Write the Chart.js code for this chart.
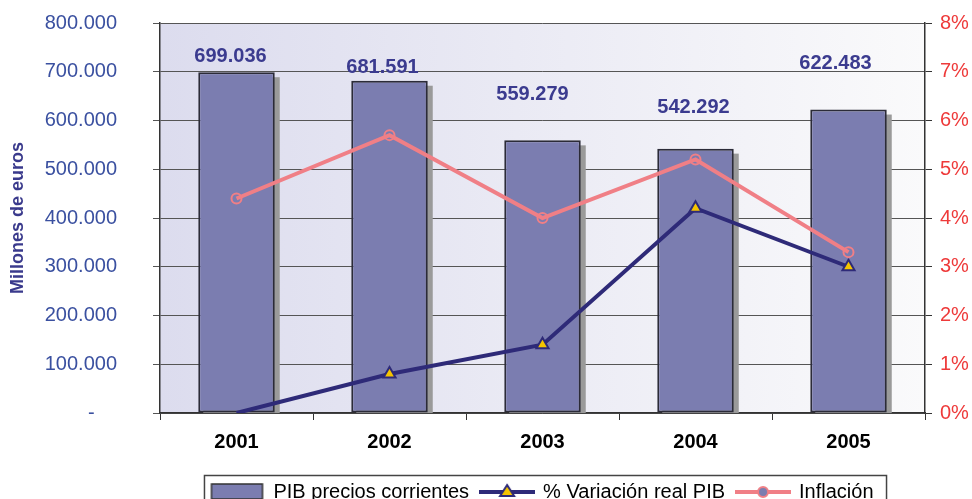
<!DOCTYPE html>
<html>
<head>
<meta charset="utf-8">
<script src="https://cdn.jsdelivr.net/npm/chart.js@4.4.1/dist/chart.umd.min.js"></script>
<style>
  html, body { margin: 0; padding: 0; background: #fff; }
  #wrap { width: 972px; height: 499px; }
</style>
</head>
<body>
<div id="wrap"><canvas id="pib"></canvas></div>
<script>
// data
var years = ['2001', '2002', '2003', '2004', '2005'];
var pibCorrientes = [699036, 681591, 559279, 542292, 622483];
var variacionReal = [0, 0.8, 1.4, 4.2, 3.0];
var inflacion = [4.4, 5.7, 4.0, 5.2, 3.3];

// hand-placed value labels (pixel nudges, like the original)
var labelLift = [16, 13, 46, 41, 46];
var labelShift = [-6, -7, -10, -2, -13];

var FONT = "'Liberation Sans', Arial, sans-serif";

function miles(v) {
    return Math.round(v).toString().replace(/\B(?=(\d{3})+(?!\d))/g, '.');
}

// legend icons
function icon(kind) {
    var c = document.createElement('canvas');
    c.width = 56; c.height = 18;
    var g = c.getContext('2d');
    if (kind === 'bar') {
        g.fillStyle = '#7B7DB0';
        g.fillRect(2, 1, 51, 15);
        g.strokeStyle = '#333';
        g.lineWidth = 1.5;
        g.strokeRect(2, 1, 51, 15);
    } else if (kind === 'tri') {
        g.strokeStyle = '#2E2A78';
        g.lineWidth = 4;
        g.beginPath(); g.moveTo(0, 9); g.lineTo(56, 9); g.stroke();
        g.beginPath(); g.moveTo(28, 2); g.lineTo(35, 13); g.lineTo(21, 13); g.closePath();
        g.fillStyle = '#F5C400'; g.fill();
        g.lineWidth = 2; g.stroke();
    } else {
        g.strokeStyle = '#F07F86';
        g.lineWidth = 4;
        g.beginPath(); g.moveTo(0, 9); g.lineTo(56, 9); g.stroke();
        g.beginPath(); g.arc(28, 9, 5, 0, Math.PI * 2);
        g.fillStyle = '#7B7DB0'; g.fill();
        g.lineWidth = 2; g.stroke();
    }
    return c;
}
var icons = [icon('bar'), icon('tri'), icon('circ')];

var decorPlugin = {
    id: 'decor',
    beforeDraw: function (chart) {
        var a = chart.chartArea, ctx = chart.ctx;
        var grad = ctx.createLinearGradient(a.left, 0, a.right, 0);
        grad.addColorStop(0, '#DCDCEE');
        grad.addColorStop(1, '#FAFAFB');
        ctx.save();
        ctx.fillStyle = grad;
        ctx.fillRect(a.left, a.top, a.right - a.left, a.bottom - a.top);
        ctx.restore();
    },
    beforeDatasetsDraw: function (chart) {
        // bar shadows
        var a = chart.chartArea, ctx = chart.ctx;
        var meta = chart.getDatasetMeta(0);
        ctx.save();
        ctx.beginPath();
        ctx.rect(a.left, a.top, a.right - a.left, a.bottom - a.top);
        ctx.clip();
        ctx.fillStyle = '#9A9A9A';
        meta.data.forEach(function (bar) {
            var p = bar.getProps(['x', 'y', 'base', 'width'], true);
            ctx.fillRect(p.x - p.width / 2 + 5, p.y + 5, p.width, p.base - p.y);
        });
        ctx.restore();
    },
    afterDatasetsDraw: function (chart) {
        var ctx = chart.ctx;
        var meta = chart.getDatasetMeta(0);
        ctx.save();
        ctx.font = 'bold 20px ' + FONT;
        ctx.fillStyle = '#3B3B8F';
        ctx.textAlign = 'center';
        ctx.textBaseline = 'middle';
        meta.data.forEach(function (bar, i) {
            ctx.fillText(miles(pibCorrientes[i]), bar.x + labelShift[i], bar.y - labelLift[i]);
        });
        ctx.restore();
    },
    afterDraw: function (chart) {
        // legend frame
        var lg = chart.legend, ctx = chart.ctx;
        if (!lg || !lg.legendHitBoxes.length) return;
        var first = lg.legendHitBoxes[0];
        var last = lg.legendHitBoxes[lg.legendHitBoxes.length - 1];
        ctx.save();
        ctx.strokeStyle = '#444';
        ctx.lineWidth = 1.5;
        ctx.strokeRect(first.left - 7, 475.5, last.left + last.width - first.left + 20, 40);
        ctx.restore();
    }
};

function noVerticalPad(s) {
    s.paddingTop = 0;
    s.paddingBottom = 0;
}

new Chart(document.getElementById('pib'), {
    type: 'bar',
    data: {
        labels: years,
        datasets: [{
            label: 'PIB precios corrientes',
            data: pibCorrientes,
            yAxisID: 'y',
            backgroundColor: '#7B7DB0',
            borderColor: '#2B2B38',
            borderWidth: 2,
            borderSkipped: false,
            barPercentage: 0.5,
            categoryPercentage: 1,
            order: 2
        }, {
            type: 'line',
            label: '% Variación real PIB',
            data: variacionReal,
            yAxisID: 'y1',
            borderColor: '#2E2A78',
            borderWidth: 4,
            pointStyle: 'triangle',
            pointRadius: function (c) { return c.dataIndex === 0 ? 0 : 7; },
            pointBackgroundColor: '#F5C400',
            pointBorderColor: '#2E2A78',
            pointBorderWidth: 2,
            tension: 0,
            order: 1
        }, {
            type: 'line',
            label: 'Inflación',
            data: inflacion,
            yAxisID: 'y1',
            borderColor: '#F07F86',
            borderWidth: 4,
            pointStyle: 'circle',
            pointRadius: 5,
            pointBackgroundColor: 'rgba(0,0,0,0)',
            pointBorderColor: '#F07F86',
            pointBorderWidth: 2,
            tension: 0,
            order: 0
        }]
    },
    options: {
        responsive: true,
        maintainAspectRatio: false,
        animation: false,
        layout: { padding: { top: 23, bottom: -13, left: 0, right: 0 } },
        scales: {
            x: {
                grid: { display: true, drawOnChartArea: false, drawTicks: true, tickLength: 7, color: '#333', offset: true },
                border: { display: true, color: '#333', width: 1.5 },
                ticks: { color: '#000', font: { family: FONT, size: 20, weight: 'bold' }, padding: 10 },
                afterFit: function (s) { s.height = 57; }
            },
            y: {
                position: 'left',
                min: 0,
                max: 800000,
                grid: { color: '#555', tickLength: 7, lineWidth: 1 },
                border: { display: true, color: '#333', width: 1.5 },
                ticks: {
                    stepSize: 100000,
                    color: '#3A50A0',
                    padding: 36,
                    font: { family: FONT, size: 20 },
                    callback: function (v) { return v === 0 ? '-    ' : miles(v); }
                },
                title: {
                    display: true,
                    text: 'Millones de euros',
                    color: '#3A3A8C',
                    font: { family: FONT, size: 18, weight: 'bold' },
                    padding: { top: 7, bottom: 0 }
                },
                afterFit: function (s) { s.width = 160; noVerticalPad(s); }
            },
            y1: {
                position: 'right',
                min: 0,
                max: 8,
                grid: { drawOnChartArea: false, color: '#333', tickLength: 7 },
                border: { display: true, color: '#333', width: 1.5 },
                ticks: {
                    stepSize: 1,
                    color: '#EE3A3A',
                    padding: 8,
                    font: { family: FONT, size: 20 },
                    callback: function (v) { return v + '%'; }
                },
                afterFit: function (s) { s.width = 47; noVerticalPad(s); }
            }
        },
        plugins: {
            tooltip: { enabled: false },
            legend: {
                position: 'bottom',
                fullSize: false,
                labels: {
                    usePointStyle: true,
                    pointStyleWidth: 52,
                    boxHeight: 16,
                    padding: 12,
                    color: '#000',
                    font: { family: FONT, size: 20 },
                    generateLabels: function (chart) {
                        return chart.data.datasets.map(function (ds, i) {
                            return {
                                text: ds.label,
                                pointStyle: icons[i],
                                datasetIndex: i,
                                hidden: false,
                                lineWidth: 0,
                                fillStyle: 'transparent',
                                strokeStyle: 'transparent',
                                fontColor: '#000'
                            };
                        });
                    }
                }
            }
        }
    },
    plugins: [decorPlugin]
});
</script>
</body>
</html>
